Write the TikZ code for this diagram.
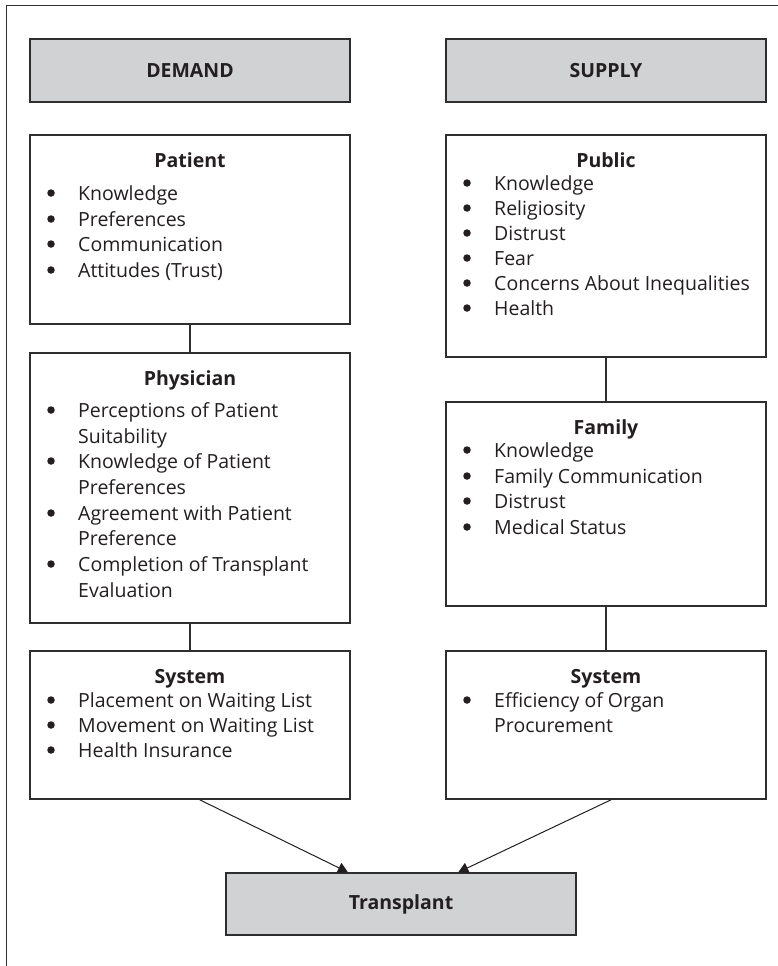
\documentclass[tikz,border=0pt]{standalone}
\usepackage{fontspec}
\setmainfont{Open Sans}
\usetikzlibrary{arrows.meta,calc}
\definecolor{boxgray}{HTML}{D1D2D4}
\definecolor{edgecol}{HTML}{2E2E2E}
\definecolor{ink}{HTML}{231F20}
\tikzset{
  box/.style={draw=edgecol, line width=1.5pt, fill=white, inner sep=0pt},
  greybox/.style={draw=edgecol, line width=1.5pt, fill=boxgray, inner sep=0pt,
    text=ink, font=\fontsize{19.5}{23}\selectfont\bfseries},
  item/.style={anchor=base west, inner sep=0pt, text=ink, font=\fontsize{19.5}{23}\selectfont},
  head/.style={anchor=base, inner sep=0pt, text=ink, font=\fontsize{19.5}{23}\selectfont\bfseries},
  bul/.style={circle, fill=ink, inner sep=0pt, minimum size=7.5pt},
  link/.style={draw=edgecol, line width=1.3pt},
  arr/.style={draw=ink, line width=1pt, -{Triangle[length=10pt,width=11pt]}}
}
\begin{document}
\begin{tikzpicture}[x=1pt,y=-1pt]
\useasboundingbox (0,0) rectangle (777,966);
% outer frame (cropped at right and bottom)
\draw[draw=edgecol, line width=1.8pt] (6.5,970) -- (6.5,5.5) -- (780,5.5);

% boxes
\node[greybox, minimum width=320pt, minimum height=63pt] (demand) at (190,70.5) {DEMAND};
\node[greybox, minimum width=320pt, minimum height=63pt] (supply) at (606,70.5) {SUPPLY};
\node[box, minimum width=320pt, minimum height=189pt] (patient) at (190,229.5) {};
\node[box, minimum width=320pt, minimum height=270pt] (physician) at (190,488) {};
\node[box, minimum width=320pt, minimum height=148pt] (sysL) at (190,725) {};
\node[box, minimum width=320pt, minimum height=222pt] (public) at (606,246) {};
\node[box, minimum width=320pt, minimum height=204pt] (family) at (606,504) {};
\node[box, minimum width=320pt, minimum height=148pt] (sysR) at (606,725) {};
\node[greybox, minimum width=350pt, minimum height=62pt] (transplant) at (401,904) {Transplant};

% connectors
\draw[link] (patient.south) -- (physician.north);
\draw[link] (physician.south) -- (sysL.north);
\draw[link] (public.south) -- (family.north);
\draw[link] (family.south) -- (sysR.north);
\draw[arr] ($(sysL.south west)!0.53!(sysL.south east)$) -- ($(transplant.north west)!0.349!(transplant.north east)$);
\draw[arr] ($(sysR.south west)!0.516!(sysR.south east)$) -- ($(transplant.north west)!0.663!(transplant.north east)$);

% Patient
\node[head] (hPat) at (190,167) {Patient};
\node[bul] (bPat1) at (51,193) {}; \node[item] (tPat1) at (78,200) {Knowledge};
\node[bul] (bPat2) at (51,219) {}; \node[item] (tPat2) at (78,226) {Preferences};
\node[bul] (bPat3) at (51,244) {}; \node[item] (tPat3) at (78,251) {Communication};
\node[bul] (bPat4) at (51,270) {}; \node[item] (tPat4) at (78,277) {Attitudes (Trust)};

% Physician
\node[head] (hPhy) at (190,385) {Physician};
\node[bul] (bPhy1) at (51,410) {}; \node[item] (tPhy1) at (78,417) {Perceptions of Patient};
\node[item] (tPhy1b) at (78,443) {Suitability};
\node[bul] (bPhy2) at (51,461) {}; \node[item] (tPhy2) at (78,468) {Knowledge of Patient};
\node[item] (tPhy2b) at (78,494) {Preferences};
\node[bul] (bPhy3) at (51,513) {}; \node[item] (tPhy3) at (78,520) {Agreement with Patient};
\node[item] (tPhy3b) at (78,545) {Preference};
\node[bul] (bPhy4) at (51,564) {}; \node[item] (tPhy4) at (78,571) {Completion of Transplant};
\node[item] (tPhy4b) at (78,597) {Evaluation};

% System (demand)
\node[head] (hSysL) at (190,683) {System};
\node[bul] (bSysL1) at (51,700) {}; \node[item] (tSysL1) at (78,707) {Placement on Waiting List};
\node[bul] (bSysL2) at (51,725) {}; \node[item] (tSysL2) at (78,732) {Movement on Waiting List};
\node[bul] (bSysL3) at (51,750) {}; \node[item] (tSysL3) at (78,757) {Health Insurance};

% Public
\node[head] (hPub) at (606,167) {Public};
\node[bul] (bPub1) at (467,183) {}; \node[item] (tPub1) at (494,190) {Knowledge};
\node[bul] (bPub2) at (467,208) {}; \node[item] (tPub2) at (494,215) {Religiosity};
\node[bul] (bPub3) at (467,233) {}; \node[item] (tPub3) at (494,240) {Distrust};
\node[bul] (bPub4) at (467,258) {}; \node[item] (tPub4) at (494,265) {Fear};
\node[bul] (bPub5) at (467,283) {}; \node[item] (tPub5) at (494,290) {Concerns About Inequalities};
\node[bul] (bPub6) at (467,308) {}; \node[item] (tPub6) at (494,315) {Health};

% Family
\node[head] (hFam) at (606,434) {Family};
\node[bul] (bFam1) at (467,450) {}; \node[item] (tFam1) at (494,457) {Knowledge};
\node[bul] (bFam2) at (467,476) {}; \node[item] (tFam2) at (494,483) {Family Communication};
\node[bul] (bFam3) at (467,501) {}; \node[item] (tFam3) at (494,508) {Distrust};
\node[bul] (bFam4) at (467,527) {}; \node[item] (tFam4) at (494,534) {Medical Status};

% System (supply)
\node[head] (hSysR) at (606,683) {System};
\node[bul] (bSysR1) at (467,700) {}; \node[item] (tSysR1) at (494,707) {Efficiency of Organ};
\node[item] (tSysR1b) at (494,732) {Procurement};
\end{tikzpicture}
\end{document}
